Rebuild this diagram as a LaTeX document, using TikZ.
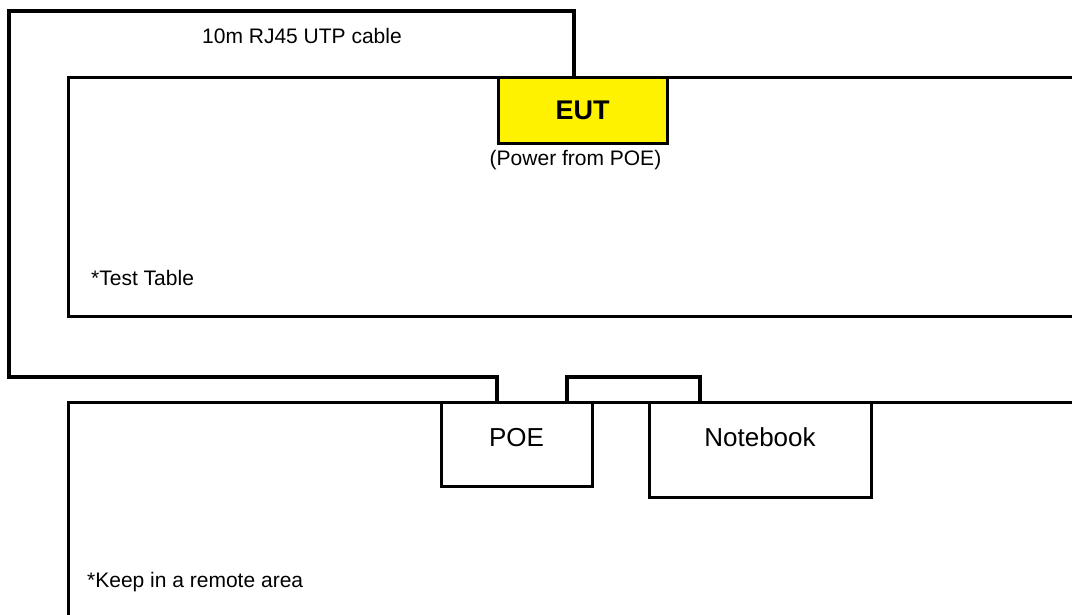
\documentclass[tikz,border=0pt]{standalone}
\usepackage{fontspec}
\setmainfont{Liberation Sans}
\usepackage{tikz}
\usetikzlibrary{positioning}

\begin{document}
\begin{tikzpicture}
          [x=1pt, y=-1pt,
           zone/.style={draw, line width=3pt, rectangle, inner sep=0pt},
           device/.style={draw, line width=3pt, rectangle, fill=white, inner sep=0pt, font=\fontsize{26}{30}\selectfont},
           note/.style={inner sep=0pt, font=\fontsize{21}{25}\selectfont},
           cable/.style={line width=3.3pt}]
          \path[use as bounding box, clip] (0,0) rectangle (1072,614);

          \node (table) [zone, minimum width=1032pt, minimum height=239pt] at (584,196.5) {};
          \node (remote) [zone, minimum width=1032pt, minimum height=258pt] at (584,531) {};

          \coordinate (bend1) at (574,11);
          \coordinate (bend2) at (9,377);
          \coordinate (poein) at (497,402);
          \coordinate (poeout) at (567,402);
          \coordinate (nbin) at (700,402);

          \draw[cable] (574,77) -- (bend1) -| (bend2) -| (poein);
          \draw[cable] (poeout) -- ++(0,-25) -| (nbin);

          \node (eut) [device, fill=yellow, minimum width=169pt, minimum height=66pt,
                       font=\fontsize{27}{30}\selectfont\bfseries] at (582.5,110) {EUT};
          \node (power) [note, below = 6pt of eut, xshift=-7pt] {(Power from POE)};
          \node (poe) [device, minimum width=151pt, minimum height=84pt, text depth=14pt] at (516.5,444) {POE};
          \node (notebook) [device, minimum width=222pt, minimum height=95pt, text depth=25pt] at (760,449.5) {Notebook};

          \node (cablename) [note, anchor=base] at (302,43.5) {10m RJ45 UTP cable};
          \node (tablename) [note, anchor=base west] at (91,285.5) {*Test Table};
          \node (remotename) [note, anchor=base west] at (87,587.5) {*Keep in a remote area};

        \end{tikzpicture}
\end{document}
